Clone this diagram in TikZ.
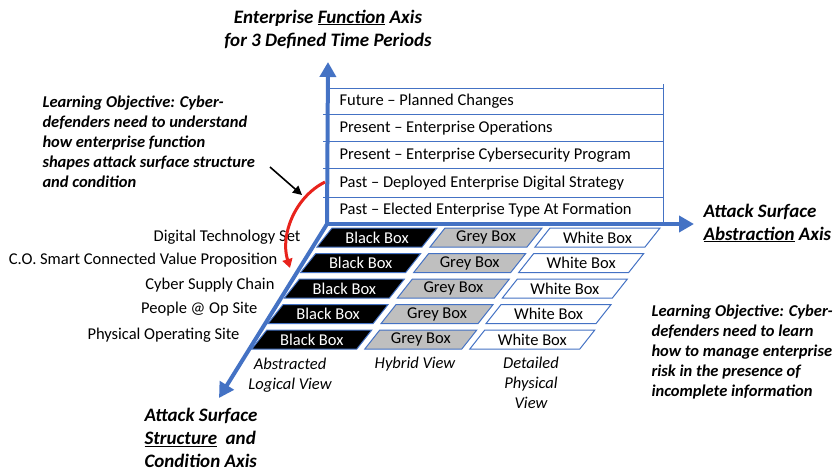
\documentclass[tikz,border=0pt]{standalone}
\usepackage{fontspec}
\setmainfont{Carlito}
\usetikzlibrary{arrows.meta}

\definecolor{ejeazul}{HTML}{4472C4}
\definecolor{gris}{HTML}{BFBFBF}
\definecolor{rojo}{HTML}{E8231C}

\tikzset{
  eje/.style={ejeazul, line width=4pt, -{Triangle[length=15pt,width=16pt]}},
  fila/.style={ejeazul, line width=1pt},
  caja/.style={draw=ejeazul, line width=1pt},
  rotulo/.style={font=\bfseries\itshape\fontsize{19}{23}\selectfont, align=left},
  objetivo/.style={font=\bfseries\itshape\fontsize{16.5}{20}\selectfont, align=left},
  vista/.style={font=\itshape\fontsize{16.5}{20}\selectfont, align=center},
}

\begin{document}
\begin{tikzpicture}[x=1pt, y=-1pt, font=\fontsize{16.5}{20}\selectfont]
        \useasboundingbox (0,0) rectangle (836,472);

        % Coordenadas
        \coordinate (O) at (327,224);
        \coordinate (tipV) at (328,62);
        \coordinate (tipH) at (694,224);
        \coordinate (tipD) at (219,398);

        % Tabla de periodos
        \draw[fila] (330,88) -- (663,88);
        \draw[fila] (663,84) -- (663,224);
        \foreach \y in {114,141,168,197}
            \draw[fila] (323,\y) -- (663,\y);
        \node[anchor=west] (futuro) at (336,101) {Future -- Planned Changes};
        \node[anchor=west] (operac) at (336,128) {Present -- Enterprise Operations};
        \node[anchor=west] (progra) at (336,155) {Present -- Enterprise Cybersecurity Program};
        \node[anchor=west] (estrat) at (336,183) {Past -- Deployed Enterprise Digital Strategy};
        \node[anchor=west] (formac) at (336,210) {Past -- Elected Enterprise Type At Formation};

        % Rejilla de cajas
        \foreach \r in {0,...,4}{
            \pgfmathsetmacro{\dx}{-16.3*\r}
            \pgfmathsetmacro{\yt}{228+25.5*\r}
            \pgfmathsetmacro{\yb}{\yt+19}
            \filldraw[caja, fill=black] ({332+\dx},\yt) -- ({437+\dx},\yt) -- ({422+\dx},\yb) -- ({317+\dx},\yb) -- cycle;
            \filldraw[caja, fill=gris] ({445+\dx},\yt) -- ({542+\dx},\yt) -- ({527+\dx},\yb) -- ({430+\dx},\yb) -- cycle;
            \filldraw[caja, fill=white] ({550+\dx},\yt) -- ({660+\dx},\yt) -- ({645+\dx},\yb) -- ({535+\dx},\yb) -- cycle;
            \node[text=white] (negra\r) at ({377+\dx},{\yt+9.5}) {Black Box};
            \node (grisb\r) at ({486+\dx},{\yt+9.5}) {Grey Box};
            \node (blanca\r) at ({597.5+\dx},{\yt+9.5}) {White Box};
        }

        % Ejes
        \draw[eje] (O) -- (tipV);
        \draw[eje] (O) -- (tipH);
        \draw[eje] (O) -- (tipD);

        % Nombres de capas
        \node[anchor=east] (tecno) at (304,237) {Digital Technology Set};
        \node[anchor=east] (valor) at (281,260) {C.O. Smart Connected Value Proposition};
        \node[anchor=east] (sumin) at (278,285) {Cyber Supply Chain};
        \node[anchor=east] (gente) at (261,309) {People @ Op Site};
        \node[anchor=east] (sitio) at (243,335) {Physical Operating Site};

        % Vistas
        \node[vista] (abstr) at (290,375) {Abstracted\\Logical View};
        \node[vista] (hibri) at (415,364) {Hybrid View};
        \node[vista] (detal) at (531,383) {Detailed\\Physical\\View};

        % Rotulos de ejes
        \node[rotulo, align=center] (ejeV) at (328,29) {Enterprise \underline{Function} Axis\\for 3 Defined Time Periods};
        \node[rotulo, anchor=west] (ejeH) at (700,223) {Attack Surface\\\underline{Abstraction} Axis};
        \node[rotulo, anchor=west] (ejeD) at (141,438) {Attack Surface\\\underline{Structure}\ \ and\\Condition Axis};

        % Objetivos de aprendizaje
        \node[objetivo, anchor=west] (objIzq) at (39,142) {Learning Objective: Cyber-\\defenders need to understand\\how enterprise function\\shapes attack surface structure\\and condition};
        \node[objetivo, anchor=west] (objDer) at (648,352) {Learning Objective: Cyber-\\defenders need to learn\\how to manage enterprise\\risk in the presence of\\incomplete information};

        % Flechas
        \coordinate (rojoIni) at (325,182);
        \coordinate (rojoFin) at (290,268);
        \draw[rojo, line width=3pt, -{Triangle[length=9pt,width=10pt]}] (rojoIni) .. controls (295,197) and (280,235) .. (rojoFin);
        \coordinate (negroIni) at (270,167);
        \coordinate (negroFin) at (302,195);
        \draw[line width=1.6pt, -{Triangle[length=9pt,width=9pt]}] (negroIni) -- (negroFin);
    \end{tikzpicture}
\end{document}
